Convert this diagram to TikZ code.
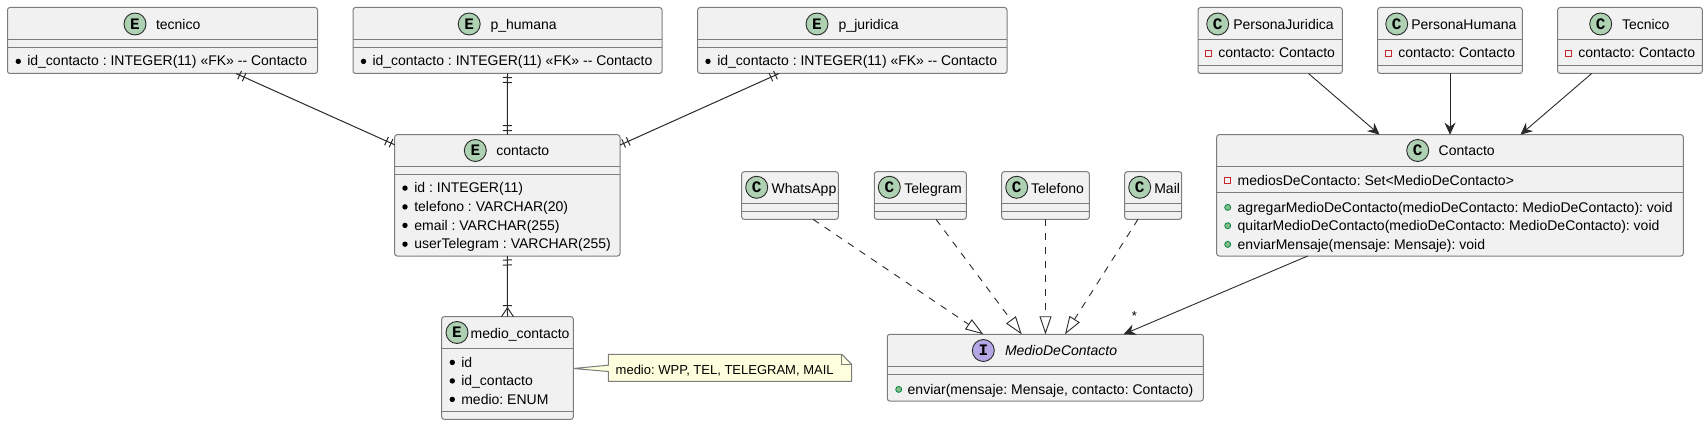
\documentclass[tikz,border=0pt]{standalone}
\usepackage{fontspec}
\setmainfont{Liberation Sans}
\newfontfamily\iconfont{Liberation Mono}[BoldFont={Liberation Mono Bold}]
\usetikzlibrary{arrows.meta,calc}
\definecolor{boxfill}{HTML}{F1F1F1}
\definecolor{boxline}{HTML}{7C7C7C}
\definecolor{linkline}{HTML}{2A2A2A}
\definecolor{iconE}{HTML}{ADD1B2}
\definecolor{iconI}{HTML}{B4A7E5}
\definecolor{notefill}{HTML}{FEFFDD}
\definecolor{pubfill}{HTML}{84BE84}
\definecolor{publine}{HTML}{038048}
\definecolor{privline}{HTML}{C82930}
\tikzset{
  umlbox/.style={draw=boxline,fill=boxfill,line width=1pt,rounded corners=2.5pt,inner sep=0pt,outer sep=0pt},
  divider/.style={draw=boxline,line width=1pt},
  umltext/.style={anchor=base west,inner sep=0pt,outer sep=0pt,font=\frenchspacing\fontsize{14}{16}\selectfont,text=black},
  umlicon/.style={circle,draw=linkline,line width=.9pt,minimum size=22pt,inner sep=0pt,font=\iconfont\bfseries\fontsize{16}{16}\selectfont,text=black},
  bulletmark/.style={circle,fill=black,minimum size=5.4pt,inner sep=0pt},
  pubmark/.style={circle,draw=publine,fill=pubfill,line width=.8pt,minimum size=6pt,inner sep=0pt},
  privmark/.style={rectangle,draw=privline,line width=.9pt,minimum size=6pt,inner sep=0pt},
  erlink/.style={draw=linkline,line width=1pt},
  assoc/.style={draw=linkline,line width=.9pt,-{Stealth[length=12pt,width=11pt,inset=4pt]}},
  realize/.style={draw=linkline,line width=.9pt,dash pattern=on 7pt off 7pt,-{Triangle[open,length=18pt,width=12pt]}},
  notebox/.style={draw=boxline,fill=notefill,line width=1pt,line join=miter}
}
% name, x1, y1, x2, y2
\newcommand{\umlrect}[5]{\node[umlbox,minimum width={(#4-#2)*1pt},minimum height={(#5-#3)*1pt}] (#1) at ({(#2+#4)/2},{(#3+#5)/2}) {};}
% box, y
\newcommand{\sep}[2]{\draw[divider] (#1.west |- 0,#2) -- (#1.east |- 0,#2);}
% name, x, y, letter, colour
\newcommand{\badge}[5]{\node[umlicon,fill=#5] (#1) at (#2,#3) {#4};}
% name, x, baseline, text
\newcommand{\txt}[4]{\node[umltext] (#1) at (#2,#3) {#4};}
% style, name, marker x, text x, baseline, text
\newcommand{\member}[6]{\node[#1] (#2m) at (#3,#5-4.6) {}; \node[umltext] (#2) at (#4,#5) {#6};}
% ER bar: near, far, distance
\newcommand{\erbar}[3]{\coordinate (tmpb) at ($(#1)!#3pt!(#2)$); \draw[erlink] ($(tmpb)!4.5pt!90:(#2)$) -- ($(tmpb)!4.5pt!-90:(#2)$);}
\newcommand{\fkrow}{id\_contacto : INTEGER(11) «FK» -{}- Contacto}
\begin{document}
\begin{tikzpicture}[x=1pt,y=-1pt]
\useasboundingbox (0,0) rectangle (1708,425);
\fill[white] (0,0) rectangle (1708,425);

% --- entity boxes
\umlrect{tecnico}{7.5}{7.5}{317.5}{73.5}
\sep{tecnico}{39.5}\sep{tecnico}{47.5}
\badge{tecnicoI}{135}{24}{E}{iconE}
\txt{tecnicoT}{156}{29.5}{tecnico}
\member{bulletmark}{tecnicoA}{18.3}{27.3}{66}{\fkrow}

\umlrect{phumana}{353}{7.5}{662}{73.5}
\sep{phumana}{39.5}\sep{phumana}{47.5}
\badge{phumanaI}{469.2}{24}{E}{iconE}
\txt{phumanaT}{490.5}{29.5}{p\_humana}
\member{bulletmark}{phumanaA}{363.5}{372.5}{66}{\fkrow}

\umlrect{pjuridica}{697.7}{7.5}{1007}{73.5}
\sep{pjuridica}{39.5}\sep{pjuridica}{47.5}
\badge{pjuridicaI}{817}{24}{E}{iconE}
\txt{pjuridicaT}{838.7}{29.5}{p\_juridica}
\member{bulletmark}{pjuridicaA}{708}{717.3}{66}{\fkrow}

\umlrect{contacto}{394.7}{134.7}{620}{256}
\sep{contacto}{166.5}\sep{contacto}{174.5}
\badge{contactoI}{475.3}{150.5}{E}{iconE}
\txt{contactoT}{496.3}{156}{contacto}
\member{bulletmark}{contactoA}{405}{414.3}{192.7}{id : INTEGER(11)}
\member{bulletmark}{contactoB}{405}{414.3}{211.5}{telefono : VARCHAR(20)}
\member{bulletmark}{contactoC}{405}{414.3}{230}{email : VARCHAR(255)}
\member{bulletmark}{contactoD}{405}{414.3}{248.8}{userTelegram : VARCHAR(255)}

\umlrect{medio}{441.7}{316.7}{573.3}{419.3}
\sep{medio}{348.5}\sep{medio}{411.3}
\badge{medioI}{457}{332.5}{E}{iconE}
\txt{medioT}{470.7}{338}{medio\_contacto}
\member{bulletmark}{medioA}{452.3}{461.3}{367}{id}
\member{bulletmark}{medioB}{452.3}{461.3}{385.5}{id\_contacto}
\member{bulletmark}{medioC}{452.3}{461.3}{404}{medio: ENUM}

% --- note
\coordinate (notetip) at (medio.east |- 0,368.5);
\path[notebox] (608.3,354.3) -- (841.7,354.3) -- (851.7,364.3) -- (851.7,381.3) -- (608.3,381.3) -- (608.3,371.5) -- (notetip) -- (608.3,365.2) -- cycle;
\draw[notebox,fill=none] (841.7,354.3) -- (841.7,364.3) -- (851.7,364.3);
\node[umltext,font=\frenchspacing\fontsize{13}{15}\selectfont] (noteT) at (615.7,374) {medio: WPP, TEL, TELEGRAM, MAIL};

% --- implementations
\umlrect{whatsapp}{741.7}{171.7}{838.3}{219.3}
\sep{whatsapp}{203.3}\sep{whatsapp}{211.3}
\badge{whatsappI}{756.7}{187.3}{C}{iconE}
\txt{whatsappT}{771.7}{193.3}{WhatsApp}

\umlrect{telegram}{874.3}{171.7}{966.3}{219.3}
\sep{telegram}{203.3}\sep{telegram}{211.3}
\badge{telegramI}{889.3}{187.3}{C}{iconE}
\txt{telegramT}{904.3}{193.3}{Telegram}

\umlrect{telefono}{1001.7}{171.7}{1089.3}{219.3}
\sep{telefono}{203.3}\sep{telefono}{211.3}
\badge{telefonoI}{1016.7}{187.3}{C}{iconE}
\txt{telefonoT}{1031}{193.3}{Telefono}

\umlrect{mail}{1124.7}{171.7}{1181.7}{219.3}
\sep{mail}{203.3}\sep{mail}{211.3}
\badge{mailI}{1139.7}{187.3}{C}{iconE}
\txt{mailT}{1154.3}{193.3}{Mail}

% --- interface
\umlrect{iface}{887.3}{334.3}{1203.3}{401}
\sep{iface}{366.5}\sep{iface}{374.5}
\badge{ifaceI}{983.3}{350.5}{I}{iconI}
\txt{ifaceT}{1005}{355.5}{\itshape MedioDeContacto}
\member{pubmark}{ifaceA}{898.7}{907.7}{394}{enviar(mensaje: Mensaje, contacto: Contacto)}

% --- domain classes
\umlrect{pj}{1198}{7.5}{1342.3}{73.5}
\sep{pj}{39.5}\sep{pj}{65.5}
\badge{pjI}{1217.7}{24}{C}{iconE}
\txt{pjT}{1233.3}{29.5}{PersonaJuridica}
\member{privmark}{pjA}{1208.3}{1218.3}{57.7}{contacto: Contacto}

\umlrect{ph}{1377.7}{7.5}{1522.3}{73.5}
\sep{ph}{39.5}\sep{ph}{65.5}
\badge{phI}{1396.7}{24}{C}{iconE}
\txt{phT}{1411.3}{29.5}{PersonaHumana}
\member{privmark}{phA}{1388.3}{1398.3}{57.7}{contacto: Contacto}

\umlrect{tc}{1557.7}{7.5}{1702.3}{73.5}
\sep{tc}{39.5}\sep{tc}{65.5}
\badge{tcI}{1600.7}{24}{C}{iconE}
\txt{tcT}{1622}{29.5}{Tecnico}
\member{privmark}{tcA}{1568.3}{1578.3}{57.7}{contacto: Contacto}

\umlrect{cc}{1216.7}{134.7}{1683.3}{256}
\sep{cc}{166.5}\sep{cc}{192}
\badge{ccI}{1417.7}{150.5}{C}{iconE}
\txt{ccT}{1438.7}{156}{Contacto}
\member{privmark}{ccA}{1227.7}{1237.7}{185}{mediosDeContacto: Set<MedioDeContacto>}
\member{pubmark}{ccB}{1227.7}{1237.7}{212}{agregarMedioDeContacto(medioDeContacto: MedioDeContacto): void}
\member{pubmark}{ccC}{1227.7}{1237.7}{230.3}{quitarMedioDeContacto(medioDeContacto: MedioDeContacto): void}
\member{pubmark}{ccD}{1227.7}{1237.7}{249}{enviarMensaje(mensaje: Mensaje): void}

% --- ER connectors
\path (tecnico) -- (contacto) coordinate[pos=0] (e1a) coordinate[pos=1] (e1b);
\draw[erlink] (tecnico) -- (contacto);
\erbar{e1a}{e1b}{4}\erbar{e1a}{e1b}{9}\erbar{e1b}{e1a}{4}\erbar{e1b}{e1a}{9}

\path (phumana.south) -- (contacto.north) coordinate[pos=0] (e2a) coordinate[pos=1] (e2b);
\draw[erlink] (phumana.south) -- (contacto.north);
\erbar{e2a}{e2b}{4}\erbar{e2a}{e2b}{9}\erbar{e2b}{e2a}{4}\erbar{e2b}{e2a}{9}

\path (pjuridica) -- (contacto) coordinate[pos=0] (e3a) coordinate[pos=1] (e3b);
\draw[erlink] (pjuridica) -- (contacto);
\erbar{e3a}{e3b}{4}\erbar{e3a}{e3b}{9}\erbar{e3b}{e3a}{4}\erbar{e3b}{e3a}{9}

\path (contacto.south) -- (medio.north) coordinate[pos=0] (e4a) coordinate[pos=1] (e4b);
\draw[erlink] (contacto.south) -- (medio.north);
\erbar{e4a}{e4b}{4}\erbar{e4a}{e4b}{9}\erbar{e4b}{e4a}{11}
\coordinate (footapex) at ($(e4b)!9pt!(e4a)$);
\draw[erlink] ($(e4b)+(-6,0)$) -- (footapex) -- ($(e4b)+(6,0)$);

% --- class connectors
\draw[assoc] (pj) -- (cc);
\draw[assoc] (ph.south) -- (ph.south |- cc.north);
\draw[assoc] (tc) -- (cc);
\draw[assoc] (cc) -- (iface);
\node[inner sep=0pt,font=\fontsize{13}{15}\selectfont] (star) at (1134.3,316) {*};

\coordinate (r1a) at (whatsapp.south -| 813,0);
\coordinate (r1b) at (iface.north -| 983.3,0);
\coordinate (r2a) at (telegram.south -| 936,0);
\coordinate (r2b) at (iface.north -| 1021.7,0);
\coordinate (r4a) at (mail.south -| 1138,0);
\coordinate (r4b) at (iface.north -| 1065,0);
\draw[realize] (r1a) -- (r1b);
\draw[realize] (r2a) -- (r2b);
\draw[realize] (telefono.south) -- (telefono.south |- iface.north);
\draw[realize] (r4a) -- (r4b);
\end{tikzpicture}
\end{document}
